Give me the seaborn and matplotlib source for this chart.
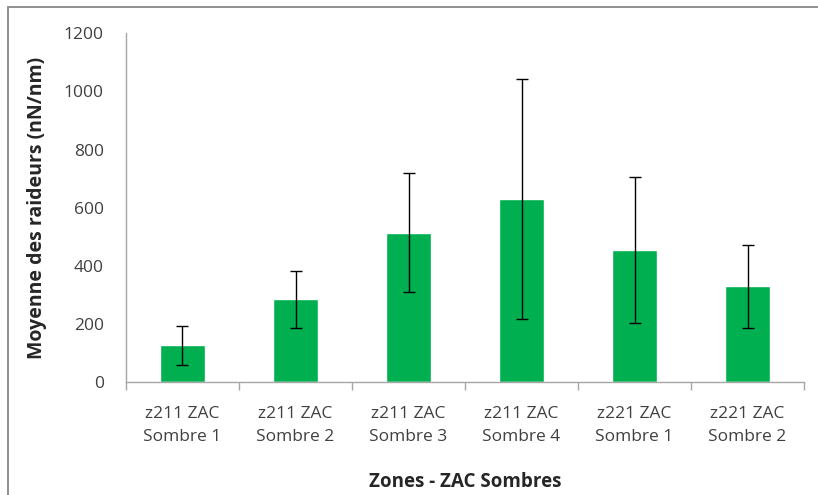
import matplotlib
matplotlib.use("Agg")
import matplotlib.pyplot as plt
import seaborn as sns
import pandas as pd
from matplotlib.patches import Rectangle

# Données
zones = ["z211 ZAC\nSombre 1", "z211 ZAC\nSombre 2", "z211 ZAC\nSombre 3",
         "z211 ZAC\nSombre 4", "z221 ZAC\nSombre 1", "z221 ZAC\nSombre 2"]
moyennes = [126, 284, 514, 630, 455, 330]
ecarts = [66, 98, 204, 412, 251, 143]
y_ticks = [0, 200, 400, 600, 800, 1000, 1200]

df = pd.DataFrame({"Zone": zones, "Moyenne": moyennes, "Ecart": ecarts})

sns.set_style("white")
plt.rcParams["font.family"] = ["Open Sans", "DejaVu Sans"]

fig = plt.figure(figsize=(8.18, 4.95), dpi=100)
ax = fig.add_axes([0.154, 0.2283, 0.829, 0.7044])

sns.barplot(data=df, x="Zone", y="Moyenne", color="#00B050", width=0.4,
            saturation=1, errorbar=None, ax=ax)
ax.errorbar(range(len(df)), df["Moyenne"], yerr=df["Ecart"], fmt="none",
            ecolor="black", elinewidth=1, capsize=4, capthick=1)

ax.set_ylim(0, 1200)
ax.set_xlim(-0.5, len(df) - 0.5)
ax.set_yticks(y_ticks)
ax.set_xticks([i - 0.5 for i in range(len(df) + 1)], minor=True)
ax.tick_params(axis="x", which="major", length=0, pad=17.5, labelsize=12.5, colors="#404040")
ax.tick_params(axis="x", which="minor", length=6, width=1, color="#A6A6A6", direction="out")
ax.tick_params(axis="y", length=6, width=1, color="#A6A6A6", direction="out",
               labelsize=12.5, labelcolor="#404040", pad=10)
ax.xaxis.set_tick_params(which="minor", bottom=True)
for lbl in ax.get_xticklabels():
    lbl.set_linespacing(1.6)

sns.despine(ax=ax)
for side in ["left", "bottom"]:
    ax.spines[side].set_color("#A6A6A6")
    ax.spines[side].set_linewidth(1)

ax.set_ylabel("Moyenne des raideurs (nN/nm)", fontsize=14, fontweight="bold", labelpad=12)
ax.set_xlabel("Zones - ZAC Sombres", fontsize=13.5, fontweight="bold", labelpad=19)

# cadre du graphique
fig.patches.append(Rectangle((8 / 818, -0.05), 1.1, 0.05 + (495 - 6.5) / 495,
                             transform=fig.transFigure, fill=False,
                             edgecolor="#878787", linewidth=1.3))

plt.savefig("out.png", dpi=100)
